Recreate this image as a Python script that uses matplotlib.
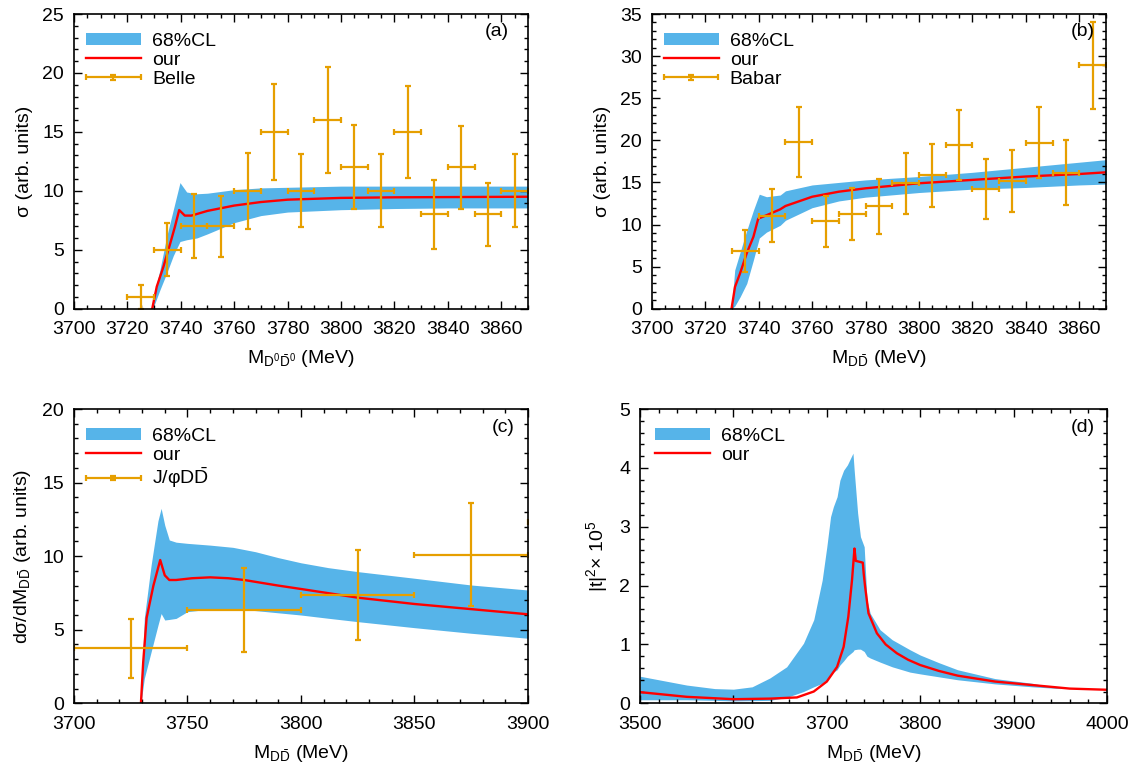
import numpy as np
import matplotlib
matplotlib.use("Agg")
import matplotlib.pyplot as plt
from matplotlib.ticker import MultipleLocator
from matplotlib.legend_handler import HandlerErrorbar
from matplotlib.container import ErrorbarContainer

plt.rcParams['font.family'] = ['Liberation Sans', 'DejaVu Sans']
plt.rcParams['mathtext.fontset'] = 'custom'
plt.rcParams['mathtext.rm'] = 'Liberation Sans'
plt.rcParams['mathtext.it'] = 'Liberation Sans:italic'
plt.rcParams['font.size'] = 14

BAND = '#56b4e9'
DATA = '#e69f00'

# ---- panel (a): D0 D0bar, Belle
a_band_x = [3729.3, 3729.7, 3732.2, 3734.7, 3737.2, 3739.7, 3742.2, 3746, 3750, 3760, 3770, 3780, 3800, 3820, 3840, 3870]
a_band_lo = [0, 0.1, 1.6, 3.0, 4.5, 5.7, 5.85, 6.0, 6.35, 7.3, 7.9, 8.2, 8.4, 8.5, 8.55, 8.55]
a_band_hi = [0, 1.0, 3.3, 6.1, 8.4, 10.7, 9.9, 9.75, 9.8, 10.1, 10.25, 10.3, 10.4, 10.4, 10.4, 10.4]
a_fit_x = [3729.3, 3731, 3733.5, 3736, 3737.8, 3739.4, 3741.5, 3744, 3747, 3750, 3760, 3770, 3780, 3800, 3820, 3870]
a_fit_y = [0, 1.87, 3.56, 5.5, 6.95, 8.37, 7.9, 7.9, 8.1, 8.3, 8.75, 9.05, 9.25, 9.4, 9.45, 9.5]
belle_x = [3725, 3735, 3745, 3755, 3765, 3775, 3785, 3795, 3805, 3815, 3825, 3835, 3845, 3855, 3865]
belle_y = [1.0, 5.0, 7.0, 7.0, 10.0, 15.0, 10.0, 16.0, 12.0, 10.0, 15.0, 8.0, 12.0, 8.0, 10.0]
belle_err = [1.0, 2.25, 2.7, 2.6, 3.2, 4.1, 3.1, 4.5, 3.55, 3.1, 3.9, 2.9, 3.5, 2.7, 3.1]

# ---- panel (b): D Dbar, Babar
b_band_x = [3729.8, 3731, 3733, 3735.5, 3738, 3740.2, 3742.9, 3748, 3750, 3760, 3770, 3780, 3800, 3820, 3840, 3860, 3870]
b_band_lo = [0, 0.3, 1.4, 3.0, 5.8, 8.4, 9.1, 9.9, 10.5, 12.0, 12.8, 13.25, 13.8, 14.2, 14.4, 14.7, 14.8]
b_band_hi = [0, 4.6, 6.7, 9.3, 11.7, 13.6, 13.3, 13.5, 14.0, 14.7, 15.0, 15.3, 15.7, 16.2, 16.8, 17.4, 17.7]
b_fit_x = [3729.8, 3731.1, 3733, 3735.5, 3738, 3739.8, 3742.9, 3748, 3750, 3760, 3770, 3780, 3800, 3820, 3840, 3860, 3870]
b_fit_y = [0, 2.6, 4.2, 6.6, 8.55, 10.7, 11.1, 11.8, 12.2, 13.3, 13.9, 14.3, 14.9, 15.3, 15.7, 16.0, 16.2]
babar_x = [3735, 3745, 3755, 3765, 3775, 3785, 3795, 3805, 3815, 3825, 3835, 3845, 3855, 3865]
babar_y = [6.84, 11.07, 19.77, 10.36, 11.27, 12.18, 14.9, 15.86, 19.45, 14.2, 15.18, 19.73, 16.17, 28.9]
babar_err = [2.47, 3.1, 4.15, 3.0, 3.12, 3.28, 3.64, 3.75, 4.2, 3.55, 3.67, 4.2, 3.9, 5.15]

# ---- panel (c): J/psi D Dbar
c_band_x = [3729.5, 3731, 3734, 3737, 3738.4, 3740, 3742, 3745, 3750, 3760, 3770, 3780, 3790, 3800,
            3812, 3825, 3850, 3875, 3900]
c_band_lo = [0, 1.7, 3.5, 5.3, 6.1, 5.66, 5.7, 5.77, 6.23, 6.4, 6.42, 6.3, 6.15, 6.0,
             5.78, 5.55, 5.14, 4.76, 4.42]
c_band_hi = [0, 5.8, 9.4, 12.4, 13.25, 12.1, 11.1, 10.95, 10.87, 10.75, 10.6, 10.3, 9.9, 9.55,
             9.22, 8.95, 8.5, 8.04, 7.7]
c_fit_x = [3729.5, 3730.5, 3732, 3735, 3738, 3740, 3742, 3745, 3752, 3760, 3768, 3775, 3790, 3800,
           3825, 3850, 3875, 3900]
c_fit_y = [0, 2.8, 5.8, 8.0, 9.74, 8.7, 8.38, 8.38, 8.5, 8.56, 8.5, 8.38, 8.0, 7.77,
           7.18, 6.75, 6.4, 6.05]
jpsi_x = [3725, 3775, 3825, 3875, 3925]
jpsi_y = [3.74, 6.34, 7.36, 10.08, 12.34]
jpsi_err = [2.0, 2.85, 3.03, 3.5, 3.5]
jpsi_xerr = [25, 25, 25, 25, 25]

# ---- panel (d): |t|^2
d_band_x = [3500, 3550, 3580, 3600, 3620, 3639, 3657, 3675, 3686, 3695, 3700, 3704, 3707, 3711, 3714, 3718,
            3722, 3728, 3729.3, 3733, 3736, 3740, 3743, 3746.4, 3757, 3770, 3789, 3800, 3820, 3840, 3880,
            3920, 3940, 3950]
d_band_lo = [0.06, 0.06, 0.05, 0.04, 0.045, 0.05, 0.1, 0.2, 0.28, 0.34, 0.4, 0.47, 0.53, 0.57, 0.65, 0.72,
             0.8, 0.88, 0.91, 0.92, 0.92, 0.88, 0.8, 0.77, 0.7, 0.62, 0.53, 0.5, 0.45, 0.40, 0.33,
             0.28, 0.26, 0.25]
d_band_hi = [0.46, 0.31, 0.25, 0.24, 0.28, 0.43, 0.62, 1.02, 1.42, 2.09, 2.66, 3.17, 3.34, 3.51, 3.79, 3.96,
             4.05, 4.25, 3.96, 3.23, 2.83, 2.66, 1.75, 1.53, 1.25, 1.08, 0.91, 0.82, 0.69, 0.57, 0.42,
             0.34, 0.28, 0.26]
d_fit_x = [3500, 3550, 3600, 3640, 3668, 3686, 3700, 3711, 3718, 3723, 3727, 3729.6, 3731, 3738.5, 3739.5,
           3741, 3744.6, 3753.6, 3763, 3775, 3787, 3800, 3820, 3840, 3880, 3920, 3960, 4000]
d_fit_y = [0.19, 0.11, 0.07, 0.08, 0.1, 0.2, 0.37, 0.62, 0.96, 1.47, 2.1, 2.63, 2.42, 2.39, 2.2,
           1.98, 1.53, 1.19, 1.0, 0.85, 0.74, 0.65, 0.55, 0.47, 0.37, 0.31, 0.25, 0.23]


def style(ax, xlim, ylim, xmaj, xmin, ymaj, ymin, tag, tagx, tagy):
    ax.set_xlim(*xlim)
    ax.set_ylim(*ylim)
    ax.xaxis.set_major_locator(MultipleLocator(xmaj))
    ax.xaxis.set_minor_locator(MultipleLocator(xmin))
    ax.yaxis.set_major_locator(MultipleLocator(ymaj))
    ax.yaxis.set_minor_locator(MultipleLocator(ymin))
    ax.tick_params(which='both', direction='in', top=True, right=True, labelsize=14, width=1)
    ax.tick_params(which='major', length=6)
    ax.tick_params(which='minor', length=3)
    ax.tick_params(axis='x', which='major', pad=9)
    ax.tick_params(axis='y', which='major', pad=7)
    for s in ax.spines.values():
        s.set_linewidth(1.2)
    ax.text(tagx, tagy, tag, transform=ax.transAxes, ha='center', va='center', fontsize=14)


def draw(ax, bx, blo, bhi, fx, fy, data=None, lab=None, legx=0.026):
    ax.fill_between(bx, blo, bhi, color=BAND, lw=0, label='68%CL')
    ax.plot(fx, fy, color='red', lw=1.7, label='our')
    if data is not None:
        x, y, yerr, xerr = data
        ax.errorbar(x, y, yerr=yerr, xerr=xerr, fmt='none', ecolor=DATA, elinewidth=1.6,
                    capsize=2, capthick=1.6, label=lab)
    ax.legend(loc='upper left', bbox_to_anchor=(legx, 0.936), frameon=False, fontsize=14,
              handlelength=2.83, handleheight=0.55, labelspacing=0.1, borderaxespad=0,
              borderpad=0, handletextpad=0.57,
              handler_map={ErrorbarContainer: HandlerErrorbar(xerr_size=1.4, yerr_size=0.12)})


fig = plt.figure(figsize=(11.38, 7.71), dpi=100)

axa = fig.add_axes([0.0650, 0.5996, 0.3989, 0.3822])
draw(axa, a_band_x, a_band_lo, a_band_hi, a_fit_x, a_fit_y, (belle_x, belle_y, belle_err, 5), 'Belle')
style(axa, (3700, 3870), (0, 25), 20, 5, 5, 1, '(a)', 0.931, 0.94)
axa.set_ylabel(r'σ (arb. units)', fontsize=14, labelpad=7)
axa.set_xlabel(r'M$_{\mathrm{D^0\bar{D}^0}}$ (MeV)', fontsize=14, labelpad=7)

axb = fig.add_axes([0.5729, 0.5996, 0.3989, 0.3822])
draw(axb, b_band_x, b_band_lo, b_band_hi, b_fit_x, b_fit_y, (babar_x, babar_y, babar_err, 5), 'Babar')
style(axb, (3700, 3870), (0, 35), 20, 5, 5, 1, '(b)', 0.949, 0.94)
axb.set_ylabel(r'σ (arb. units)', fontsize=14, labelpad=7)
axb.set_xlabel(r'M$_{\mathrm{D\bar{D}}}$ (MeV)', fontsize=14, labelpad=7)

axc = fig.add_axes([0.0650, 0.0878, 0.3989, 0.3817])
draw(axc, c_band_x, c_band_lo, c_band_hi, c_fit_x, c_fit_y, (jpsi_x, jpsi_y, jpsi_err, jpsi_xerr),
     r'J/φD$\mathrm{\bar{D}}$')
style(axc, (3700, 3900), (0, 20), 50, 10, 5, 1, '(c)', 0.945, 0.936)
axc.set_ylabel(r'dσ/dM$_{\mathrm{D\bar{D}}}$ (arb. units)', fontsize=14, labelpad=7)
axc.set_xlabel(r'M$_{\mathrm{D\bar{D}}}$ (MeV)', fontsize=14, labelpad=7)

axd = fig.add_axes([0.5624, 0.0878, 0.4104, 0.3817])
draw(axd, d_band_x, d_band_lo, d_band_hi, d_fit_x, d_fit_y, legx=0.032)
style(axd, (3500, 4000), (0, 5), 100, 20, 1, 0.2, '(d)', 0.949, 0.936)
axd.set_ylabel(r'|t|$^2$× 10$^5$', fontsize=14, labelpad=7)
axd.set_xlabel(r'M$_{\mathrm{D\bar{D}}}$ (MeV)', fontsize=14, labelpad=7)

fig.savefig('out.png', dpi=100)
